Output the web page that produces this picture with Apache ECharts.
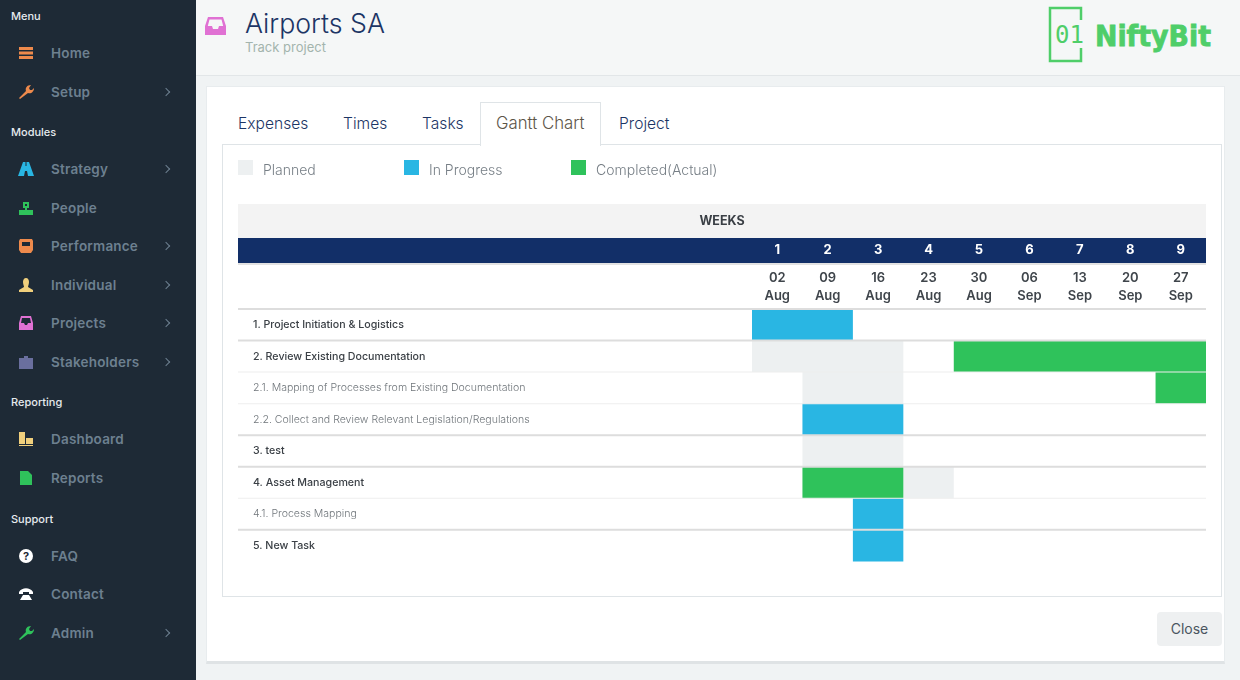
<!DOCTYPE html>
<html>
<head>
<meta charset="utf-8">
<title>Gantt Chart</title>
<script src="https://cdn.jsdelivr.net/npm/echarts@6/dist/echarts.min.js"></script>
<style>
  html, body { margin: 0; padding: 0; width: 1240px; height: 680px; overflow: hidden; background: #f0f3f4; font-family: Inter, "Noto Sans", sans-serif; }
  .abs { position: absolute; white-space: nowrap; }
  #sidebar { position: absolute; left: 0; top: 0; width: 196px; height: 680px; background: #1e2a36; }
  #header { position: absolute; left: 196px; top: 0; width: 1044px; height: 75px; background: #f5f7f7; border-bottom: 1px solid #e2e6e8; }
  #card { position: absolute; left: 206px; top: 86px; width: 1017px; height: 574px; background: #fff; border: 1px solid #e8ecee; border-bottom: 3px solid #dfe3e5; box-sizing: content-box; }
  #panel { position: absolute; left: 222px; top: 144px; width: 998px; height: 451px; border: 1px solid #dfe4e7; background: #fff; }
  #activeTab { position: absolute; left: 480px; top: 102px; width: 119px; height: 43px; background: #fff; border: 1px solid #dfe4e7; border-bottom: none; }
  .tab { font-size: 15.6px; color: #1c3565; font-weight: 300; }
  .group { font-size: 11px; color: #e6eaee; font-weight: 500; }
  .item { font-size: 13.5px; color: #6d8090; font-weight: 600; letter-spacing: 0.2px; }
  .chev { width: 5px; height: 5px; border-top: 1px solid #6d8090; border-right: 1px solid #6d8090; transform: rotate(45deg); }
  #chart-container { position: absolute; left: 0; top: 0; width: 1240px; height: 680px; }
  #closeBtn { position: absolute; left: 1157px; top: 612px; width: 65px; height: 34px; background: #eef0f1; border-radius: 4px; color: #4a5560; font-size: 14px; line-height: 34px; text-align: center; }
</style>
</head>
<body>
<div id="sidebar"></div>
<div id="header"></div>
<div id="card"></div>
<div id="panel"></div>
<div id="activeTab"></div>

<svg class="abs" style="left:205px;top:16px" width="21" height="20" viewBox="0 0 21 20">
  <path d="M3 1h15l3 9v9H0v-9z M4.5 3.5L2.8 10H7l1 3h5l1-3h4.2l-1.7-6.5z" fill="#e071d3" fill-rule="evenodd"/>
</svg>
<div class="abs" style="left:245px;top:7px;font-size:26.7px;font-weight:300;color:#1c3565">Airports SA</div>
<div class="abs" style="left:245px;top:39px;font-size:13px;color:#a3b4ad">Track project</div>

<svg class="abs" style="left:1048px;top:6px" width="170" height="58" viewBox="0 0 170 58">
  <path d="M33 14V2H2v53h31V42" fill="none" stroke="#4fce69" stroke-width="2.5"/>
  <text x="7" y="37" font-family="DejaVu Sans Mono" font-size="24" fill="#4fce69">01</text>
  <text x="47" y="40" font-family="DejaVu Sans" font-weight="bold" font-size="28" fill="#4fce69" stroke="#4fce69" stroke-width="0.8" textLength="116" lengthAdjust="spacingAndGlyphs">NiftyBit</text>
</svg>

<div class="abs tab" style="left:238px;top:114px">Expenses</div>
<div class="abs tab" style="left:343px;top:114px">Times</div>
<div class="abs tab" style="left:422px;top:114px">Tasks</div>
<div class="abs tab" style="left:496px;top:113px;font-size:16.8px;color:#5d5548">Gantt Chart</div>
<div class="abs tab" style="left:619px;top:114px">Project</div>

<div id="closeBtn">Close</div>
<div id="chart-container"></div>

<script>
// sidebar
var navGroups = [['Menu', 16], ['Modules', 132], ['Reporting', 402], ['Support', 519]];
var navItems = [
  ['Home', 53, false, '<path d="M1 2h14v3H1zM1 6.5h14v3H1zM1 11h14v3H1z" fill="#ee8a4c"/>'],
  ['Setup', 92, true, '<path d="M2 15l-1-1 7-7c-1-3 1-6 5-6l-2 3 1 2 2 0 2-2c0 4-3 6-6 5z" fill="#ee8a4c"/>'],
  ['Strategy', 169, true, '<path d="M5 1h2.5v4h1V1H11l5 14h-6l-1-5H7l-1 5H0z" fill="#29b6e3"/>'],
  ['People', 208, false, '<path d="M5 2h6v6H9v2h6v5H1v-5h6V8H5zM7 4v2h2V4z" fill="#2fc25b" fill-rule="evenodd"/>'],
  ['Performance', 246, true, '<path d="M2 1h12l1 2v9l-2 3H3l-2-3V3zM4 4v4h8V4z" fill="#ee8a4c" fill-rule="evenodd"/>'],
  ['Individual', 285, true, '<path d="M8 1c2 0 3 2 3 4s-1 4-1 5l5 3v2H1v-2l5-3c0-1-1-3-1-5s1-4 3-4z" fill="#f0cf7c"/>'],
  ['Projects', 323, true, '<path d="M3 1h10l2 7v7H1V8zM4 3L3 8h3l1 2h2l1-2h3l-1-5z" fill="#e071d3" fill-rule="evenodd"/>'],
  ['Stakeholders', 362, true, '<path d="M6 2h4v2h5v11H1V4h5z" fill="#6a6f9e"/>'],
  ['Dashboard', 439, false, '<path d="M1 1h6v12H1zM8 7h7v6H8zM1 14h14v1H1z" fill="#f0cf7c"/>'],
  ['Reports', 478, false, '<path d="M2 1h8l4 4v10H2z" fill="#2fc25b"/>'],
  ['FAQ', 556, false, '<circle cx="8" cy="8" r="7" fill="#fff"/><text x="8" y="12" text-anchor="middle" font-size="11" font-weight="bold" fill="#1e2a36">?</text>'],
  ['Contact', 594, false, '<path d="M1 6c3-5 11-5 14 0v2h-4V6H5v2H1zM5 9h6l3 5H2z" fill="#fff"/>'],
  ['Admin', 633, true, '<path d="M2 15l-1-1 7-7c-1-3 1-6 5-6l-2 3 1 2 2 0 2-2c0 4-3 6-6 5z" fill="#2fc25b"/>']
];
var sidebar = document.getElementById('sidebar');
var nav = '';
navGroups.forEach(function (g) {
  nav += '<div class="abs group" style="left:11px;top:' + (g[1] - 7) + 'px">' + g[0] + '</div>';
});
navItems.forEach(function (n) {
  nav += '<svg class="abs" style="left:18px;top:' + (n[1] - 8) + 'px" width="16" height="16" viewBox="0 0 16 16">' + n[3] + '</svg>';
  nav += '<div class="abs item" style="left:51px;top:' + (n[1] - 8) + 'px">' + n[0] + '</div>';
  if (n[2]) nav += '<div class="abs chev" style="left:163px;top:' + (n[1] - 3) + 'px"></div>';
});
sidebar.innerHTML = nav;

// chart data
var weekNumbers = ['1', '2', '3', '4', '5', '6', '7', '8', '9'];
var weekDates = ['02\nAug', '09\nAug', '16\nAug', '23\nAug', '30\nAug', '06\nSep', '13\nSep', '20\nSep', '27\nSep'];
var taskNames = [
  '1. Project Initiation & Logistics',
  '2. Review Existing Documentation',
  '2.1. Mapping of Processes from Existing Documentation',
  '2.2. Collect and Review Relevant Legislation/Regulations',
  '3. test',
  '4. Asset Management',
  '4.1. Process Mapping',
  '5. New Task'
];
// [task row, first week index, last week index]
var plannedBars = [[1, 0, 2], [2, 1, 2], [4, 1, 2], [5, 3, 3]];
var inProgressBars = [[0, 0, 1], [3, 1, 2], [6, 2, 2], [7, 2, 2]];
var completedBars = [[1, 4, 8], [2, 8, 8], [5, 1, 2]];
var rowRules = [0, 1, 2, 3, 4, 5, 6, 7];

function isSubTask(name) {
  return /^\d+\.\d+\./.test(name);
}

function renderBar(params, api) {
  var row = api.value(0);
  var start = api.coord([api.value(1), row]);
  var end = api.coord([api.value(2), row]);
  var band = api.size([1, 1]);
  return {
    type: 'rect',
    shape: { x: start[0] - band[0] / 2, y: start[1] - band[1] / 2, width: end[0] - start[0] + band[0], height: band[1] },
    style: { fill: api.visual('color') }
  };
}

// the row rules run under the task names too, so they leave the grid
function renderRule(params, api) {
  var row = api.value(0);
  var p = api.coord([0, row]);
  var band = api.size([1, 1]);
  var y = p[1] - band[1] / 2;
  var thin = isSubTask(taskNames[row]);
  return {
    type: 'rect',
    shape: { x: 238, y: y - (thin ? 0.5 : 1), width: 968, height: thin ? 1 : 2 },
    style: { fill: thin ? '#eeeeee' : '#dddddd' }
  };
}

function barSeries(name, color, data) {
  return {
    name: name,
    type: 'custom',
    renderItem: renderBar,
    itemStyle: { color: color },
    encode: { x: [1, 2], y: 0 },
    silent: true,
    data: data
  };
}

function legendAt(name, left) {
  return {
    data: [name],
    left: left,
    top: 160,
    padding: 0,
    icon: 'rect',
    itemWidth: 15,
    itemHeight: 15,
    itemGap: 0,
    selectedMode: false,
    formatter: '{t|{name}}',
    textStyle: {
      padding: [0, 0, 0, 5],
      rich: { t: { color: '#777f86', fontSize: 14, fontWeight: 300, fontFamily: 'Inter', padding: [7, 0, 0, 0] } }
    }
  };
}

var dom = document.getElementById('chart-container');
var myChart = echarts.init(dom, null, { renderer: 'canvas' });

var option = {
  animation: false,
  backgroundColor: 'transparent',
  legend: [legendAt('Planned', 238), legendAt('In Progress', 404), legendAt('Completed(Actual)', 571)],
  graphic: [
    { type: 'rect', z: 0, shape: { x: 238, y: 204, width: 968, height: 34 }, style: { fill: '#f3f3f3' } },
    { type: 'rect', z: 0, shape: { x: 238, y: 238, width: 968, height: 25 }, style: { fill: '#122f68' } },
    { type: 'rect', z: 0, shape: { x: 238, y: 263, width: 968, height: 2 }, style: { fill: '#e2e2e2' } },
    { type: 'text', z: 1, style: { x: 722, y: 221, text: 'WEEKS', align: 'center', verticalAlign: 'middle', fill: '#3a3f45', font: 'bold 12.5px Inter' } }
  ],
  grid: { left: 752, top: 309, width: 454, height: 252.4 },
  xAxis: [
    {
      type: 'category',
      position: 'top',
      offset: 46,
      data: weekNumbers,
      axisLine: { show: false },
      axisTick: { show: false },
      splitLine: { show: false },
      axisLabel: { interval: 0, margin: 6, color: '#ffffff', fontSize: 13, fontWeight: 'bold', fontFamily: 'Inter' }
    },
    {
      type: 'category',
      position: 'top',
      data: weekDates,
      axisLine: { show: false },
      axisTick: { show: false },
      splitLine: { show: false },
      axisLabel: { interval: 0, margin: 4, color: '#3f454b', fontSize: 13, fontWeight: 600, lineHeight: 18, fontFamily: 'Inter' }
    }
  ],
  yAxis: {
    type: 'category',
    inverse: true,
    data: taskNames,
    axisLine: { show: false },
    axisTick: { show: false },
    splitLine: { show: false },
    axisLabel: {
      interval: 0,
      margin: 499,
      align: 'left',
      fontFamily: 'Inter',
      formatter: function (v) {
        return (isSubTask(v) ? '{sub|' : '{main|') + v + '}';
      },
      rich: {
        main: { fontSize: 10.65, fontWeight: 500, color: '#3b4046', fontFamily: 'Inter' },
        sub: { fontSize: 10.55, fontWeight: 300, color: '#70767b', fontFamily: 'Inter' }
      }
    }
  },
  series: [
    barSeries('Planned', '#edf0f1', plannedBars),
    barSeries('In Progress', '#29b6e3', inProgressBars),
    barSeries('Completed(Actual)', '#2fc25b', completedBars),
    {
      name: 'rules',
      type: 'custom',
      renderItem: renderRule,
      clip: false,
      z: 5,
      silent: true,
      encode: { y: 0 },
      data: rowRules
    }
  ]
};

myChart.setOption(option);
window.addEventListener('resize', myChart.resize);
</script>
</body>
</html>
